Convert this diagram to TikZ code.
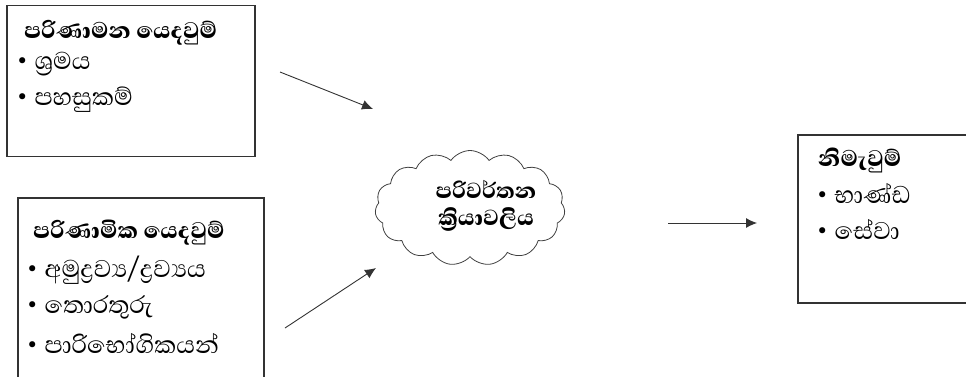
\documentclass[tikz,border=0pt]{standalone}
\usepackage{fontspec}
\setmainfont{Abhaya Libre}[Script=Sinhala, BoldFont=Abhaya Libre ExtraBold]
\newfontfamily\symfont{DejaVu Sans}
\usetikzlibrary{shapes.symbols,arrows.meta}
\tikzset{
  box/.style={draw=black!80, line width=1.1pt, rectangle, inner sep=0pt},
  ttl/.style={anchor=west, inner sep=0pt, font=\fontsize{29}{31}\selectfont\bfseries},
  itm/.style={anchor=west, inner sep=0pt, font=\fontsize{31}{33}\selectfont},
  ctx/.style={inner sep=0pt, font=\fontsize{28}{30}\selectfont\bfseries},
  arr/.style={-{Latex[length=11pt,width=10pt]}, line width=0.9pt, draw=black!80},
}
\newcommand{\bul}{\raisebox{1pt}{\symfont\fontsize{21}{22}\selectfont •}\hspace{6pt}}
\begin{document}
\begin{tikzpicture}[x=1pt,y=-1pt]
\useasboundingbox (0,0) rectangle (966,376);
% box 1
\node[box, minimum width=248pt, minimum height=151pt] (b1) at (131,81) {};
\node[ttl] (t1) at (24,33) {පරිණාමන යෙදවුම්};
\node[itm] (i11) at (16,64) {\bul ශ්^^^^200dරමය};
\node[itm] (i12) at (16,100) {\bul පහසුකම්};
% box 2
\node[box, minimum width=246pt, minimum height=200pt] (b2) at (141,298) {};
\node[ttl] (t2) at (33,233) {පරිණාමික යෙදවුම්};
\node[itm] (i21) at (26,270) {\bul අමුද්^^^^200dරව්^^^^200dය/ද්^^^^200dරව්^^^^200dයය};
\node[itm] (i22) at (26,307) {\bul තොරතුරු};
\node[itm] (i23) at (26,343) {\bul පාරිභෝගිකයන්};
% cloud
\node[cloud, cloud puffs=15, cloud puff arc=110, aspect=1.7, draw=black!75, line width=0.8pt,
      minimum width=190pt, minimum height=115pt, inner sep=0pt] (c) at (470,208) {};
\node[ctx, anchor=base] (ct1) at (486,198) {පරිවර්තන};
\node[ctx, anchor=base] (ct2) at (486,225) {ක්^^^^200dරියාවලිය};
% box 3
\node[box, minimum width=180pt, minimum height=168pt] (b3) at (888,219) {};
\node[ttl] (t3) at (818,160) {නිමැවුම්};
\node[itm] (i31) at (816,193) {\bul භාණ්ඩ};
\node[itm] (i32) at (816,229) {\bul සේවා};
% arrows
\coordinate (a1s) at (280,72);
\coordinate (a1e) at (373,109);
\coordinate (a2s) at (285,328);
\coordinate (a2e) at (376,268);
\coordinate (a3s) at (668,223);
\coordinate (a3e) at (757,223);
\draw[arr] (a1s) -- (a1e);
\draw[arr] (a2s) -- (a2e);
\draw[arr] (a3s) -- (a3e);
\end{tikzpicture}
\end{document}
